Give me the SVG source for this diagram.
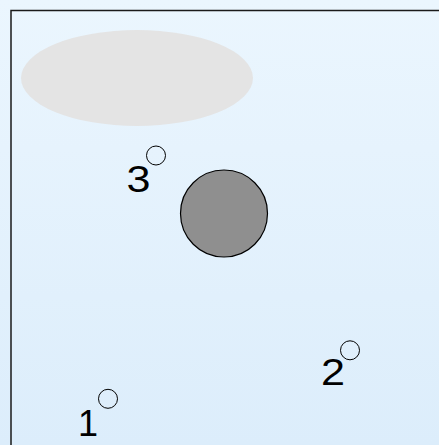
<svg xmlns="http://www.w3.org/2000/svg" width="439" height="445" viewBox="0 0 439 445">
<defs>
<linearGradient id="bg" x1="0" y1="0" x2="0" y2="1">
<stop offset="0" stop-color="#ebf6fe"/>
<stop offset="1" stop-color="#dcedfb"/>
</linearGradient>
</defs>
<style>
.pt{fill:none;stroke:#000;stroke-width:1}
.lbl{font-family:"Liberation Sans",Arial,sans-serif;font-size:36px;fill:#000}
</style>
<rect x="0" y="0" width="439" height="445" fill="url(#bg)"/>
<rect x="11" y="10.5" width="440" height="450" fill="none" stroke="#1a1a1a" stroke-width="1.5"/>
<g id="ellipse"><ellipse cx="137" cy="78" rx="116" ry="48" fill="#e4e4e4"/></g>
<g id="disc"><circle cx="224" cy="213.5" r="43.5" fill="#8f8f8f" stroke="#000" stroke-width="1.2"/></g>
<g id="p3"><circle class="pt" cx="156" cy="155.5" r="9.5"/><text class="lbl" x="126.4" y="192" textLength="24" lengthAdjust="spacingAndGlyphs">3</text></g>
<g id="p2"><circle class="pt" cx="350" cy="350.3" r="9.5"/><text class="lbl" x="321" y="385.3" textLength="24" lengthAdjust="spacingAndGlyphs">2</text></g>
<g id="p1"><circle class="pt" cx="108" cy="398.8" r="9.5"/><text class="lbl" x="78" y="436">1</text></g>
<g id="connectors"/>
</svg>
